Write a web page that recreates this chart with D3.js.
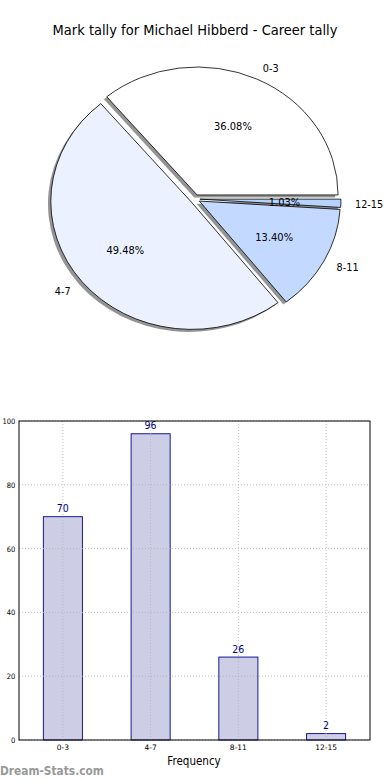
<!DOCTYPE html>
<html>
<head>
<meta charset="utf-8">
<script src="https://cdn.jsdelivr.net/npm/d3@7"></script>
<style>
  body { margin: 0; background: #fff; }
  svg { display: block; font-family: "DejaVu Sans", sans-serif; }
</style>
</head>
<body>
<svg id="chart" width="390" height="780"></svg>
<script>
const categories = ["0-3", "4-7", "8-11", "12-15"];
const counts = [70, 96, 26, 2];
const sliceColors = ["#ffffff", "#ebf1ff", "#c4d9ff", "#b6d2ff"];
const yTicks = [0, 20, 40, 60, 80, 100];
const titleText = "Mark tally for Michael Hibberd - Career tally";
const xLabel = "Frequency";
const watermark = "Dream-Stats.com";

const svg = d3.select("#chart");
const SX = 0.9; // horizontal text condensation seen in the reference

function txt(g, x, y, s, size, anchor, color, weight) {
  return g.append("text")
    .attr("transform", `translate(${x},${y}) scale(${SX},1)`)
    .attr("text-anchor", anchor)
    .attr("dominant-baseline", "central")
    .attr("font-size", size)
    .attr("fill", color || "#000")
    .attr("font-weight", weight || "normal")
    .text(s);
}

// Title
txt(svg, 195, 30, titleText, 14.5, "middle");

// ---------- Pie ----------
const cx = 195, cy = 199, rx = 141, ry = 128, explode = 0.035;
const total = d3.sum(counts);
const pie = d3.pie().sort(null).startAngle(Math.PI / 2).endAngle(Math.PI / 2 - 2 * Math.PI);
const arcs = pie(counts);
const arcGen = d3.arc().innerRadius(0).outerRadius(1);

const pieG = svg.append("g");
function offsetFor(a) {
  const mid = (a.startAngle + a.endAngle) / 2;
  return { ux: Math.sin(mid), uy: -Math.cos(mid) };
}
// shadows
arcs.forEach((a, i) => {
  const o = offsetFor(a);
  const x = cx + explode * rx * o.ux - 0.02 * rx;
  const y = cy + explode * ry * o.uy + 0.02 * ry;
  pieG.append("path")
    .attr("d", arcGen(a))
    .attr("transform", `translate(${x},${y}) scale(${rx},${ry})`)
    .attr("fill", "#4d4d4d")
    .attr("fill-opacity", 0.6)
    .attr("stroke", "none");
});
// wedges
arcs.forEach((a, i) => {
  const o = offsetFor(a);
  const x = cx + explode * rx * o.ux;
  const y = cy + explode * ry * o.uy;
  pieG.append("path")
    .attr("d", arcGen(a))
    .attr("transform", `translate(${x},${y}) scale(${rx},${ry})`)
    .attr("fill", sliceColors[i])
    .attr("stroke", "#000")
    .attr("stroke-width", 0.8)
    .attr("vector-effect", "non-scaling-stroke");
});
// labels
arcs.forEach((a, i) => {
  const o = offsetFor(a);
  const x0 = cx + explode * rx * o.ux;
  const y0 = cy + explode * ry * o.uy;
  const lx = x0 + 1.1 * rx * o.ux, ly = y0 + 1.1 * ry * o.uy;
  txt(pieG, lx, ly, categories[i], 10.8, o.ux >= 0 ? "start" : "end");
  const px = x0 + 0.6 * rx * o.ux, py = y0 + 0.6 * ry * o.uy;
  txt(pieG, px, py, (counts[i] / total * 100).toFixed(2) + "%", 11, "middle");
});

// ---------- Bar chart ----------
const m = { left: 19, right: 370, top: 421, bottom: 740 };
const x = d3.scaleBand().domain(categories).range([m.left, m.right]).paddingInner(0.555).paddingOuter(0.2775);
const y = d3.scaleLinear().domain([0, 100]).range([m.bottom, m.top]);
const barG = svg.append("g");

// bars
categories.forEach((c, i) => {
  barG.append("rect")
    .attr("x", x(c)).attr("width", x.bandwidth())
    .attr("y", y(counts[i])).attr("height", y(0) - y(counts[i]))
    .attr("fill", "#cdcde6").attr("stroke", "#00008b").attr("stroke-width", 0.9);
});
// grid drawn above bars (as in the reference)
categories.forEach(c => {
  const xc = x(c) + x.bandwidth() / 2;
  barG.append("line")
    .attr("x1", xc).attr("x2", xc)
    .attr("y1", m.top).attr("y2", m.bottom)
    .attr("stroke", "#b0b0b0").attr("stroke-width", 0.8).attr("stroke-dasharray", "1,2");
});
yTicks.forEach(t => {
  barG.append("line")
    .attr("x1", m.left).attr("x2", m.right)
    .attr("y1", y(t)).attr("y2", y(t))
    .attr("stroke", "#b0b0b0").attr("stroke-width", 0.8).attr("stroke-dasharray", "1,2");
});
// value labels
categories.forEach((c, i) => {
  txt(barG, x(c) + x.bandwidth() / 2, y(counts[i]) - 8, String(counts[i]), 10.5, "middle", "#00008b");
});

// frame
barG.append("rect")
  .attr("x", m.left).attr("y", m.top)
  .attr("width", m.right - m.left).attr("height", m.bottom - m.top)
  .attr("fill", "none").attr("stroke", "#000").attr("stroke-width", 1);

// axes
const yAxis = d3.axisLeft(y).tickValues(yTicks).tickSize(0).tickPadding(4);
const ya = barG.append("g").attr("transform", `translate(${m.left},0)`).call(yAxis);
ya.select(".domain").remove();
ya.selectAll("text").attr("font-size", 7.5).attr("font-family", "DejaVu Sans").attr("fill", "#000")
  .attr("transform", `scale(${SX},1)`);
const xAxis = d3.axisBottom(x).tickSize(0).tickPadding(5);
const xa = barG.append("g").attr("transform", `translate(0,${m.bottom})`).call(xAxis);
xa.select(".domain").remove();
xa.selectAll("text").attr("font-size", 7.5).attr("font-family", "DejaVu Sans").attr("fill", "#000");

txt(svg, 194, 761, xLabel, 11.5, "middle");
txt(svg, 0, 771, watermark, 11.8, "start", "#999", "bold");
</script>
</body>
</html>
